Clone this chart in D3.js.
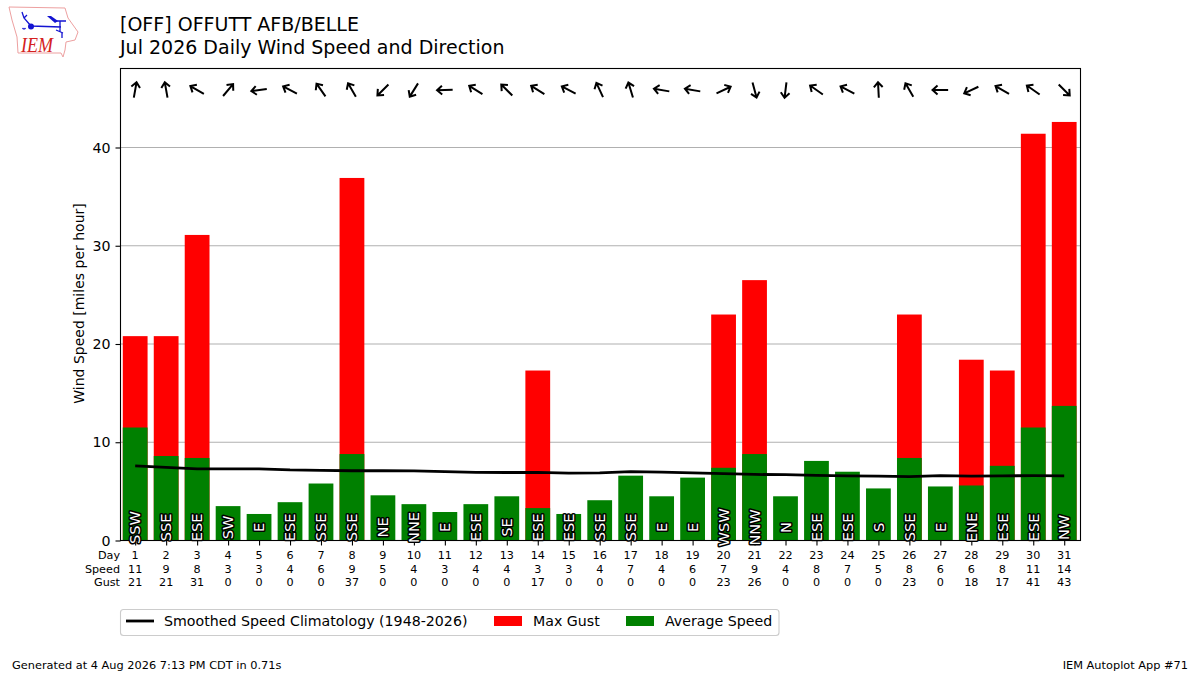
<!DOCTYPE html>
<html>
<head>
<meta charset="utf-8">
<script src="https://cdn.jsdelivr.net/npm/d3@7.9.0/dist/d3.min.js"></script>
<style>
  html, body { margin: 0; padding: 0; background: #fff; }
  svg { display: block; }
  text { font-family: "DejaVu Sans", sans-serif; fill: #000; }
  .dirlabel { fill: #fff; stroke: #000; stroke-width: 3px; paint-order: stroke; stroke-linejoin: round; }
</style>
</head>
<body>
<svg id="chart" width="1200" height="675"></svg>
<script>
const days = d3.range(1, 32);
const avgSpeed = [11.5, 8.6, 8.4, 3.5, 2.7, 3.9, 5.8, 8.8, 4.6, 3.7, 2.9, 3.7, 4.5, 3.3, 2.7, 4.1,
  6.6, 4.5, 6.4, 7.4, 8.8, 4.5, 8.1, 7.0, 5.3, 8.4, 5.5, 5.6, 7.6, 11.5, 13.7];
const maxGust = [20.8, 20.8, 31.1, 0, 0, 0, 0, 36.9, 0, 0, 0, 0, 0, 17.3, 0, 0,
  0, 0, 0, 23.0, 26.5, 0, 0, 0, 0, 23.0, 0, 18.4, 17.3, 41.4, 42.6];
const speedLabels = [11, 9, 8, 3, 3, 4, 6, 9, 5, 4, 3, 4, 4, 3, 3, 4, 7, 4, 6, 7, 9, 4, 8, 7, 5, 8, 6, 6, 8, 11, 14];
const gustLabels = [21, 21, 31, 0, 0, 0, 0, 37, 0, 0, 0, 0, 0, 17, 0, 0, 0, 0, 0, 23, 26, 0, 0, 0, 0, 23, 0, 18, 17, 41, 43];
const dirLabels = ['SSW', 'SSE', 'ESE', 'SW', 'E', 'ESE', 'SSE', 'SSE', 'NE', 'NNE', 'E', 'ESE', 'SE', 'ESE', 'ESE', 'SSE',
  'SSE', 'E', 'E', 'WSW', 'NNW', 'N', 'ESE', 'ESE', 'S', 'SSE', 'E', 'ENE', 'ESE', 'ESE', 'NW'];
// direction the wind came from, degrees
const dirDegrees = [190, 170, 120, 220, 82, 118, 145, 150, 45, 32, 88, 122, 135, 122, 118, 155,
  163, 100, 100, 245, 345, 7, 125, 118, 177, 150, 90, 65, 120, 125, 315];
const climo = [7.6, 7.45, 7.3, 7.3, 7.3, 7.18, 7.13, 7.1, 7.1, 7.08, 7.02, 6.93, 6.92, 6.93, 6.85, 6.88,
  7.0, 6.95, 6.88, 6.8, 6.72, 6.7, 6.62, 6.58, 6.56, 6.5, 6.6, 6.55, 6.58, 6.6, 6.57];
const yTicks = [0, 10, 20, 30, 40];
const tableRows = [['Day', days], ['Speed', speedLabels], ['Gust', gustLabels]];
const legendItems = ['Smoothed Speed Climatology (1948-2026)', 'Max Gust', 'Average Speed'];

const svg = d3.select('#chart');
const plotLeft = 120.5, plotRight = 1080.5, plotTop = 68.5, plotBottom = 540.5;

const x = d3.scaleLinear().domain([0.5, 31.5]).range([plotLeft - 0.8, plotRight - 0.8]);
const y = d3.scaleLinear().domain([0, 48.04]).range([plotBottom, plotTop]);
const barW = (x(2) - x(1)) * 0.8;

// grid
svg.append('g').selectAll('line').data(yTicks.slice(1)).join('line')
  .attr('x1', plotLeft).attr('x2', plotRight)
  .attr('y1', d => y(d)).attr('y2', d => y(d))
  .attr('stroke', '#b0b0b0').attr('stroke-width', 1.1);

// bars
svg.append('g').selectAll('rect').data(days).join('rect')
  .attr('x', (d) => x(d) - barW / 2).attr('width', barW)
  .attr('y', (d, i) => y(maxGust[i])).attr('height', (d, i) => y(0) - y(maxGust[i]))
  .attr('fill', '#ff0000');
svg.append('g').selectAll('rect').data(days).join('rect')
  .attr('x', (d) => x(d) - barW / 2).attr('width', barW)
  .attr('y', (d, i) => y(avgSpeed[i])).attr('height', (d, i) => y(0) - y(avgSpeed[i]))
  .attr('fill', '#008000');

// climatology
let climoLine = d3.line().x((d, i) => x(days[i])).y((d) => y(d));
svg.append('path').attr('d', climoLine(climo))
  .attr('fill', 'none').attr('stroke', '#000').attr('stroke-width', 2.8);

// arrows along the top, pointing where the wind blows to
const arrows = svg.append('g').attr('fill', 'none').attr('stroke', '#000')
  .attr('stroke-width', 2).attr('stroke-linecap', 'butt');
dirDegrees.forEach((deg, i) => {
  arrows.append('path')
    .attr('d', 'M0,7.8 L0,-7.8 M-4.4,-2.8 L0,-7.8 L4.4,-2.8')
    .attr('transform', `translate(${x(days[i])},${y(45.85)}) rotate(${deg + 180})`);
});

// frame + axes
svg.append('rect').attr('x', plotLeft).attr('y', plotTop)
  .attr('width', plotRight - plotLeft).attr('height', plotBottom - plotTop)
  .attr('fill', 'none').attr('stroke', '#000').attr('stroke-width', 1.1);

let yAxis = svg.append('g').attr('transform', `translate(${plotLeft},0)`)
  .call(d3.axisLeft(y).tickValues(yTicks).tickSize(5).tickPadding(5).tickFormat(d3.format('d')));
yAxis.select('.domain').remove();
yAxis.selectAll('line').attr('stroke-width', 1.1);
yAxis.selectAll('text').attr('font-size', 14.2).attr('font-family', '"DejaVu Sans"');

let xAxis = svg.append('g').attr('transform', `translate(0,${plotBottom})`)
  .call(d3.axisBottom(x).tickValues(days).tickSize(5).tickFormat(''));
xAxis.select('.domain').remove();
xAxis.selectAll('line').attr('stroke-width', 1.1);

// direction names inside the bars, on top of the axis line
svg.append('g').selectAll('text').data(dirLabels).join('text')
  .attr('class', 'dirlabel')
  .attr('transform', (d, i) => `translate(${x(days[i])},${y(1.33)}) rotate(-90)`)
  .attr('text-anchor', 'middle').attr('dy', '0.36em')
  .attr('font-size', 14.6)
  .text(d => d);

svg.append('text')
  .attr('transform', `translate(84,${(plotTop + plotBottom) / 2 - 1}) rotate(-90)`)
  .attr('text-anchor', 'middle').attr('font-size', 14)
  .text('Wind Speed [miles per hour]');

// table under the axis
tableRows.forEach(([name, vals], r) => {
  let rowY = 559 + r * 13.6;
  svg.append('text').attr('x', 120).attr('y', rowY).attr('text-anchor', 'end')
    .attr('font-size', 11.2).text(name);
  svg.append('g').selectAll('text').data(vals).join('text')
    .attr('x', (d, i) => x(days[i])).attr('y', rowY)
    .attr('text-anchor', 'middle').attr('font-size', 11.2)
    .text(d => d);
});

// titles
svg.append('text').attr('x', 120).attr('y', 31).attr('font-size', 19).text('[OFF] OFFUTT AFB/BELLE');
svg.append('text').attr('x', 120).attr('y', 54).attr('font-size', 19).text('Jul 2026 Daily Wind Speed and Direction');

// legend
const lg = svg.append('g');
lg.append('rect').attr('x', 120.5).attr('y', 609.5).attr('width', 658.5).attr('height', 26)
  .attr('rx', 3).attr('fill', '#fff').attr('stroke', '#ccc').attr('stroke-width', 1.1);
lg.append('line').attr('x1', 126).attr('x2', 154).attr('y1', 621).attr('y2', 621)
  .attr('stroke', '#000').attr('stroke-width', 2.8);
lg.append('rect').attr('x', 494).attr('y', 616).attr('width', 28).attr('height', 10).attr('fill', '#ff0000');
lg.append('rect').attr('x', 626).attr('y', 616).attr('width', 28).attr('height', 10).attr('fill', '#008000');
const legendX = [164, 533, 665];
legendItems.forEach((t, i) => {
  lg.append('text').attr('x', legendX[i]).attr('y', 626).attr('font-size', 14.2).text(t);
});

// footer
svg.append('text').attr('x', 12).attr('y', 669).attr('font-size', 11.35)
  .text('Generated at 4 Aug 2026 7:13 PM CDT in 0.71s');
svg.append('text').attr('x', 1188).attr('y', 669).attr('text-anchor', 'end').attr('font-size', 11.35)
  .text('IEM Autoplot App #71');

// logo, rough iowa outline + station glyph
const logo = svg.append('g');
logo.append('path')
  .attr('d', 'M9,7 L65,8 L68,18 L78,32 L75,40 L66,42 L65,50 L63,57 L61,53 L18,53 L17,37 L12,20 Z')
  .attr('fill', '#fff').attr('stroke', '#eda0a0').attr('stroke-width', 1);
logo.append('path')
  .attr('d', 'M22,12 L24,18 L31,26 L61,27 M27,15 L24,18 M56,21 L66,21 M60,21 L60,32 M56,30 L63,33 M62,33 L62,38')
  .attr('fill', 'none').attr('stroke', '#1414d2').attr('stroke-width', 1.3);
logo.append('circle').attr('cx', 31).attr('cy', 26.5).attr('r', 3).attr('fill', '#1414d2');
logo.append('path').attr('d', 'M47,16 L51,16 L58,21 L55,23 Z').attr('fill', '#1414d2');
logo.append('g').selectAll('circle').data([[24, 29], [23, 28.5], [25, 28.5]]).join('circle')
  .attr('cx', d => d[0]).attr('cy', d => d[1]).attr('r', 0.8).attr('fill', '#1414d2');
logo.append('text').attr('x', 21).attr('y', 51.5).attr('font-size', 21)
  .attr('font-style', 'italic').attr('textLength', 32).attr('lengthAdjust', 'spacingAndGlyphs')
  .style('font-family', '"Liberation Serif"').style('fill', '#d42020').text('IEM');
</script>
</body>
</html>
